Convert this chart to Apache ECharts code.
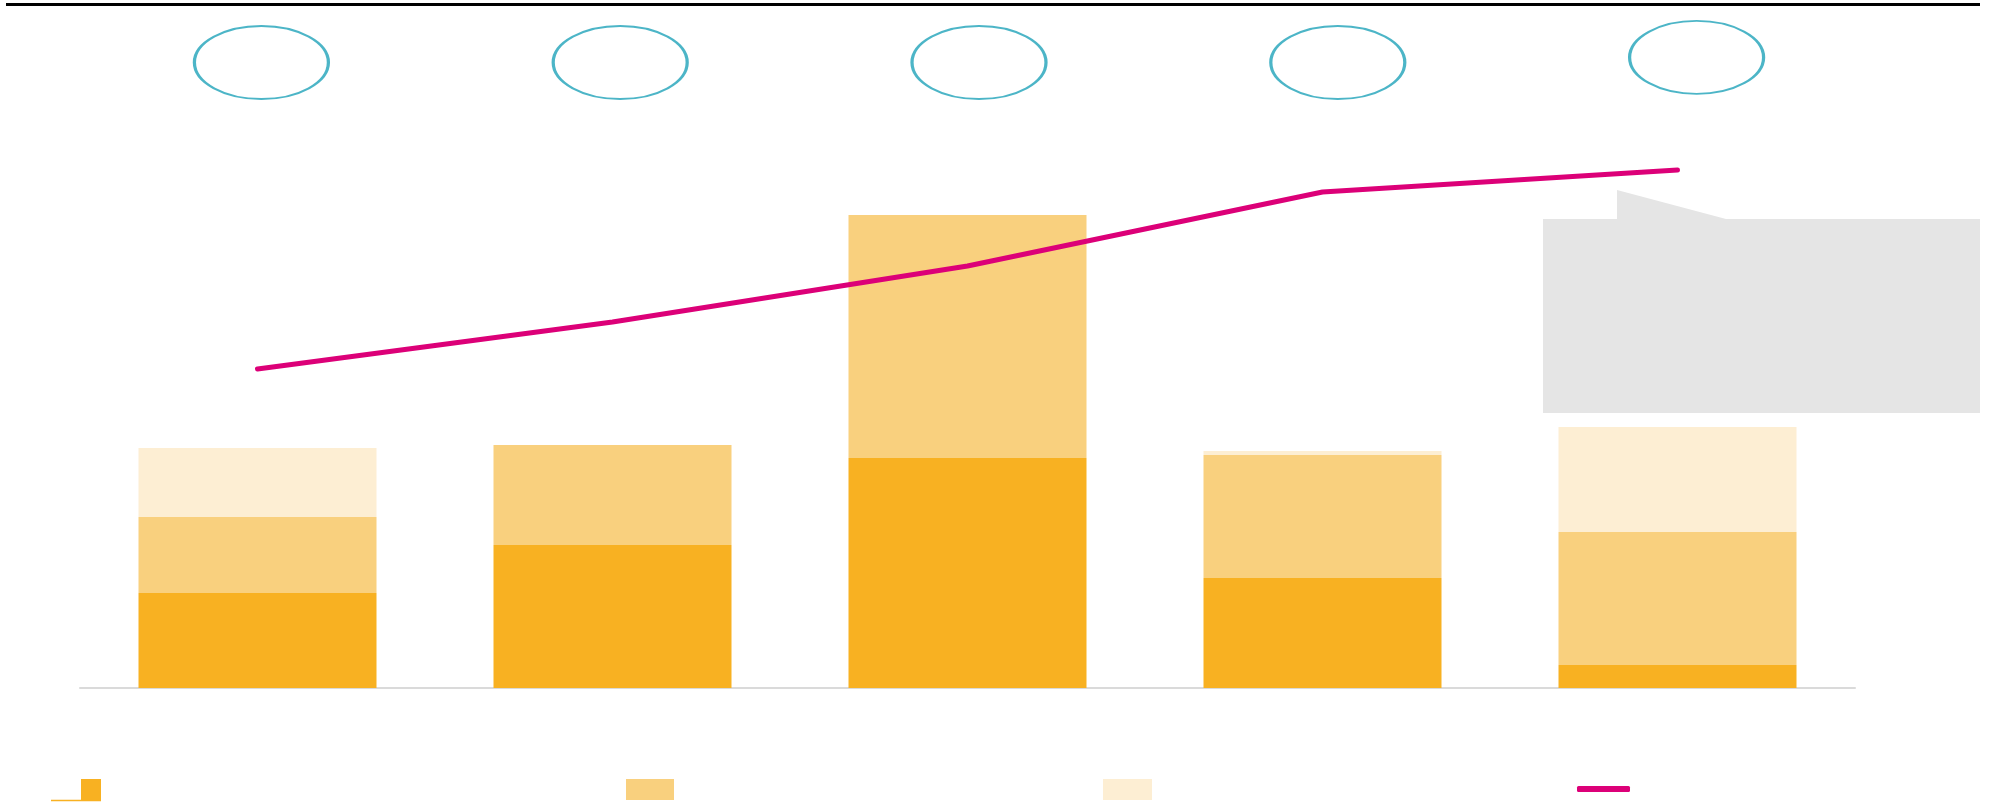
<!DOCTYPE html>
<html>
<head>
<meta charset="utf-8">
<script src="https://cdn.jsdelivr.net/npm/echarts@6/dist/echarts.min.js"></script>
<style>
  html, body { margin: 0; padding: 0; background: #ffffff; }
  #chart { width: 1999px; height: 811px; }
</style>
</head>
<body>
<div id="chart"></div>
<script>
// Categories along the x axis
const categories = ['P1', 'P2', 'P3', 'P4', 'P5'];

// Stacked bar segments (bottom to top)
const baseValues = [19, 28.6, 46, 22, 4.6];
const middleValues = [15.2, 20, 48.6, 24.6, 26.6];
const topValues = [13.8, 0, 0, 0.8, 21];

// Trend line
const trendValues = [63.8, 73.2, 84.4, 99.2, 103.6];

// Height of the badge row above each category
const badgeLevels = [62.5, 62.5, 62.5, 62.5, 67.6];

const seriesNames = ['Segment 1', 'Segment 2', 'Segment 3', 'Trend'];

const COLORS = {
  base: '#F8B122',
  middle: '#F9D07E',
  top: '#FDEED3',
  trend: '#DC0078',
  badge: '#1FA3B9',
  callout: '#E5E5E5',
  axis: '#DADADA'
};

// Smooth ellipse outline built from four cubic curves; stretched to symbolSize
const ellipsePath = 'path://M50,0 C77.6,0 100,22.4 100,50 C100,77.6 77.6,100 50,100 ' +
  'C22.4,100 0,77.6 0,50 C0,22.4 22.4,0 50,0 Z';

const chart = echarts.init(document.getElementById('chart'), null, { renderer: 'canvas' });

const legendBase = {
  orient: 'horizontal',
  padding: 0,
  itemGap: 0,
  formatter: () => '',
  selectedMode: false,
  textStyle: { fontSize: 1 }
};

chart.setOption({
  animation: false,
  backgroundColor: '#ffffff',
  grid: [
    { left: 80, width: 1775, top: 138, bottom: 123, containLabel: false },
    { left: 82, width: 1794, top: 0, height: 125, containLabel: false }
  ],
  xAxis: [
    {
      type: 'category',
      data: categories,
      gridIndex: 0,
      axisLine: { show: true, lineStyle: { color: COLORS.axis, width: 2 } },
      axisTick: { show: false },
      axisLabel: { show: false },
      splitLine: { show: false }
    },
    {
      type: 'category',
      data: categories,
      gridIndex: 1,
      show: false
    }
  ],
  yAxis: [
    {
      type: 'value',
      gridIndex: 0,
      min: 0,
      max: 110,
      show: false
    },
    {
      type: 'value',
      gridIndex: 1,
      min: 0,
      max: 125,
      show: false
    }
  ],
  legend: [
    Object.assign({}, legendBase, {
      data: [seriesNames[0]], left: 81, top: 779,
      itemWidth: 20, itemHeight: 21, icon: 'rect'
    }),
    Object.assign({}, legendBase, {
      data: [seriesNames[1]], left: 626, top: 779,
      itemWidth: 48, itemHeight: 21, icon: 'rect'
    }),
    Object.assign({}, legendBase, {
      data: [seriesNames[2]], left: 1103, top: 779,
      itemWidth: 49, itemHeight: 21, icon: 'rect'
    }),
    Object.assign({}, legendBase, {
      data: [seriesNames[3]], left: 1577, top: 786,
      itemWidth: 53, itemHeight: 6, icon: 'roundRect'
    })
  ],
  graphic: [
    // top rule
    {
      type: 'line',
      shape: { x1: 6, y1: 4.5, x2: 1980, y2: 4.5 },
      style: { stroke: '#000000', lineWidth: 3 },
      silent: true
    },
    // callout panel with pointer
    {
      type: 'polygon',
      shape: {
        points: [
          [1543, 219], [1617, 219], [1617, 190], [1726, 219],
          [1980, 219], [1980, 413], [1543, 413]
        ]
      },
      style: { fill: COLORS.callout },
      silent: true
    },
    // underline beneath the first legend key
    {
      type: 'line',
      shape: { x1: 51, y1: 800.5, x2: 101, y2: 800.5 },
      style: { stroke: COLORS.base, lineWidth: 1.5 },
      silent: true
    }
  ],
  series: [
    {
      name: seriesNames[0],
      type: 'bar',
      stack: 'total',
      xAxisIndex: 0,
      yAxisIndex: 0,
      barWidth: 238,
      data: baseValues,
      itemStyle: { color: COLORS.base },
      emphasis: { disabled: true }
    },
    {
      name: seriesNames[1],
      type: 'bar',
      stack: 'total',
      xAxisIndex: 0,
      yAxisIndex: 0,
      barWidth: 238,
      data: middleValues,
      itemStyle: { color: COLORS.middle },
      emphasis: { disabled: true }
    },
    {
      name: seriesNames[2],
      type: 'bar',
      stack: 'total',
      xAxisIndex: 0,
      yAxisIndex: 0,
      barWidth: 238,
      data: topValues,
      itemStyle: { color: COLORS.top },
      emphasis: { disabled: true }
    },
    {
      name: seriesNames[3],
      type: 'line',
      xAxisIndex: 0,
      yAxisIndex: 0,
      data: trendValues,
      symbol: 'none',
      z: 5,
      itemStyle: { color: COLORS.trend },
      lineStyle: { color: COLORS.trend, width: 5, cap: 'round', join: 'round' },
      emphasis: { disabled: true }
    },
    {
      name: 'Badges',
      type: 'scatter',
      xAxisIndex: 1,
      yAxisIndex: 1,
      data: badgeLevels,
      symbol: ellipsePath,
      symbolSize: [134, 73],
      itemStyle: { color: 'rgba(0,0,0,0)', borderColor: COLORS.badge, borderWidth: 2.4 },
      emphasis: { disabled: true }
    }
  ]
});
</script>
</body>
</html>
